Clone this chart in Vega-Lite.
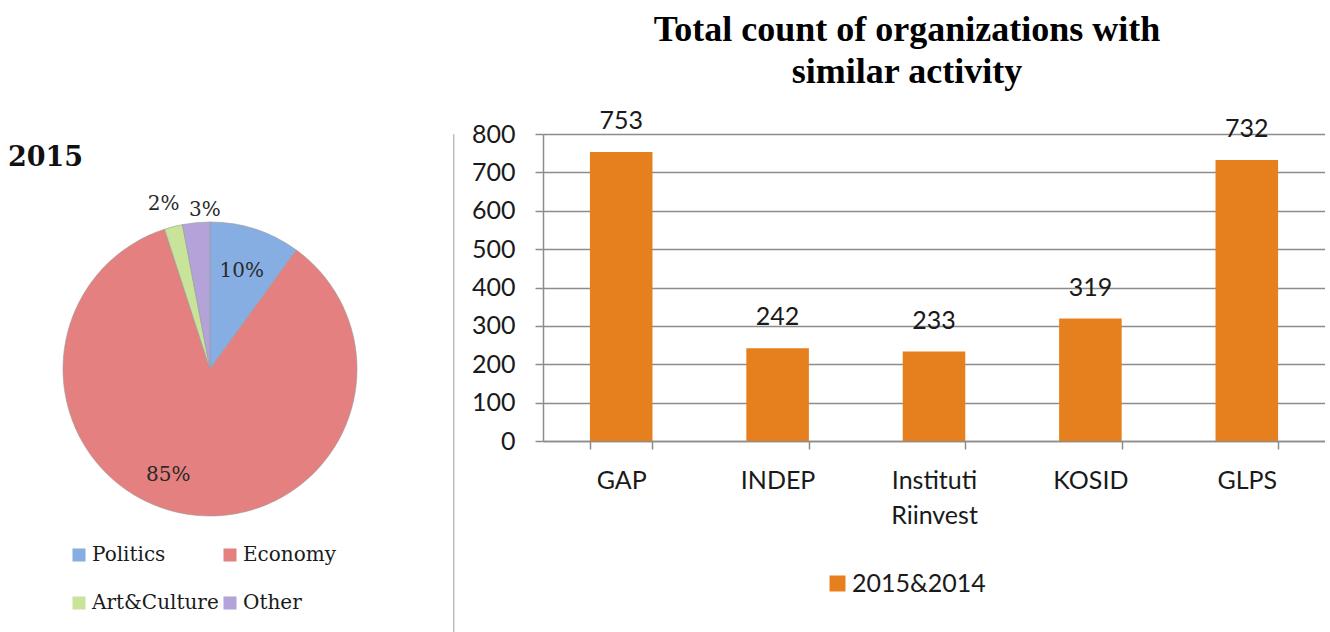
{
  "$schema": "https://vega.github.io/schema/vega-lite/v6.json",
  "padding": {"left": 8, "top": 12, "right": 0, "bottom": 0},
  "bounds": "flush",
  "spacing": 89,
  "background": "white",
  "resolve": {"scale": {"color": "independent"}, "legend": {"color": "independent"}},
  "config": {
    "view": {"stroke": null},
    "font": "Lato"
  },
  "datasets": {
    "topics": [
      {"category": "Politics", "share": 10, "label": "10%", "rank": 1},
      {"category": "Economy", "share": 85, "label": "85%", "rank": 2},
      {"category": "Art&Culture", "share": 2, "label": "2%", "rank": 3},
      {"category": "Other", "share": 3, "label": "3%", "rank": 4}
    ],
    "orgs": [
      {"org": "GAP", "count": 753, "series": "2015&2014"},
      {"org": "INDEP", "count": 242, "series": "2015&2014"},
      {"org": "Instituti Riinvest", "count": 233, "series": "2015&2014"},
      {"org": "KOSID", "count": 319, "series": "2015&2014"},
      {"org": "GLPS", "count": 732, "series": "2015&2014"}
    ]
  },
  "hconcat": [
    {
      "width": 308,
      "height": 470,
      "title": {
        "text": "2015",
        "anchor": "start",
        "frame": "group",
        "font": "DejaVu Serif",
        "fontSize": 27,
        "fontWeight": "bold",
        "color": "#111111",
        "dx": -48,
        "dy": 42
      },
      "data": {"name": "topics"},
      "encoding": {
        "theta": {"field": "share", "type": "quantitative", "stack": true},
        "order": {"field": "rank", "type": "quantitative"}
      },
      "layer": [
        {
          "mark": {"type": "arc", "outerRadius": 147, "stroke": "#9a9a9a", "strokeWidth": 0.6},
          "encoding": {
            "color": {
              "field": "category",
              "type": "nominal",
              "scale": {
                "domain": ["Politics", "Economy", "Art&Culture", "Other"],
                "range": ["#86AEE3", "#E58080", "#C8E49A", "#B3A3D8"]
              },
              "legend": {
                "title": null,
                "orient": "none",
                "legendX": 13,
                "legendY": 411,
                "columns": 2,
                "direction": "horizontal",
                "symbolType": "square",
                "symbolSize": 170,
                "symbolStrokeWidth": 0,
                "labelFont": "DejaVu Serif",
                "labelFontSize": 20,
                "labelColor": "#1a1a1a",
                "labelOffset": 3,
                "columnPadding": 1,
                "rowPadding": 28,
                "labelLimit": 300
              }
            }
          }
        },
        {
          "mark": {"type": "text", "radius": 103, "font": "DejaVu Serif", "fontSize": 20, "color": "#2a2a2a"},
          "encoding": {
            "text": {"field": "label", "type": "nominal"},
            "opacity": {"condition": {"test": "datum.category === 'Politics'", "value": 1}, "value": 0}
          }
        },
        {
          "mark": {"type": "text", "radius": 107, "dx": -25, "font": "DejaVu Serif", "fontSize": 20, "color": "#2a2a2a"},
          "encoding": {
            "text": {"field": "label", "type": "nominal"},
            "opacity": {"condition": {"test": "datum.category === 'Economy'", "value": 1}, "value": 0}
          }
        },
        {
          "mark": {"type": "text", "radius": 170, "dx": -4, "font": "DejaVu Serif", "fontSize": 20, "color": "#2a2a2a"},
          "encoding": {
            "text": {"field": "label", "type": "nominal"},
            "opacity": {"condition": {"test": "datum.category === 'Art&Culture'", "value": 1}, "value": 0}
          }
        },
        {
          "mark": {"type": "text", "radius": 160, "dx": 10, "font": "DejaVu Serif", "fontSize": 20, "color": "#2a2a2a"},
          "encoding": {
            "text": {"field": "label", "type": "nominal"},
            "opacity": {"condition": {"test": "datum.category === 'Other'", "value": 1}, "value": 0}
          }
        }
      ]
    },
    {
      "width": 0.5,
      "height": 499,
      "view": {"stroke": "#bdbdbd", "strokeWidth": 1},
      "data": {"values": [{}]},
      "mark": {"type": "text"},
      "encoding": {"text": {"value": ""}}
    },
    {
      "width": 782,
      "height": 307,
      "title": {
        "text": ["Total count of organizations with", "similar activity"],
        "anchor": "middle",
        "frame": "group",
        "font": "Liberation Serif",
        "fontSize": 36,
        "fontWeight": "bold",
        "color": "#000000",
        "lineHeight": 42,
        "dx": -27,
        "offset": 18
      },
      "data": {"name": "orgs"},
      "encoding": {
        "x": {
          "field": "org",
          "type": "nominal",
          "sort": null,
          "scale": {"paddingInner": 0.6, "paddingOuter": 0.3},
          "axis": {
            "title": null,
            "labelAngle": 0,
            "labelFont": "Lato",
            "labelFontSize": 25,
            "labelColor": "#1a1a1a",
            "labelExpr": "split(datum.label, ' ')",
            "labelLineHeight": 35,
            "labelPadding": 19,
            "tickBand": "extent",
            "tickSize": 8,
            "tickColor": "#8c8c8c",
            "tickWidth": 1.5,
            "domainColor": "#8c8c8c",
            "domainWidth": 1.5
          }
        },
        "y": {
          "field": "count",
          "type": "quantitative",
          "scale": {"domain": [0, 800], "nice": false},
          "axis": {
            "title": null,
            "values": [0, 100, 200, 300, 400, 500, 600, 700, 800],
            "labelFont": "Lato",
            "labelFontSize": 25,
            "labelColor": "#1a1a1a",
            "labelPadding": 20,
            "tickSize": 8,
            "tickColor": "#8c8c8c",
            "tickWidth": 1.5,
            "domainColor": "#8c8c8c",
            "domainWidth": 1.5,
            "gridColor": "#8c8c8c",
            "gridWidth": 1.5
          }
        }
      },
      "layer": [
        {
          "mark": {"type": "bar"},
          "encoding": {
            "color": {
              "field": "series",
              "type": "nominal",
              "scale": {"domain": ["2015&2014"], "range": ["#E6801F"]},
              "legend": {
                "title": null,
                "orient": "none",
                "legendX": 282,
                "legendY": 437,
                "symbolType": "square",
                "symbolSize": 256,
                "symbolStrokeWidth": 0,
                "labelFont": "Lato",
                "labelFontSize": 25,
                "labelColor": "#1a1a1a",
                "labelOffset": 2
              }
            }
          }
        },
        {
          "mark": {"type": "text", "baseline": "bottom", "dy": -18, "font": "Lato", "fontSize": 25, "color": "#1a1a1a"},
          "encoding": {
            "text": {"field": "count", "type": "quantitative"}
          }
        }
      ]
    }
  ]
}
